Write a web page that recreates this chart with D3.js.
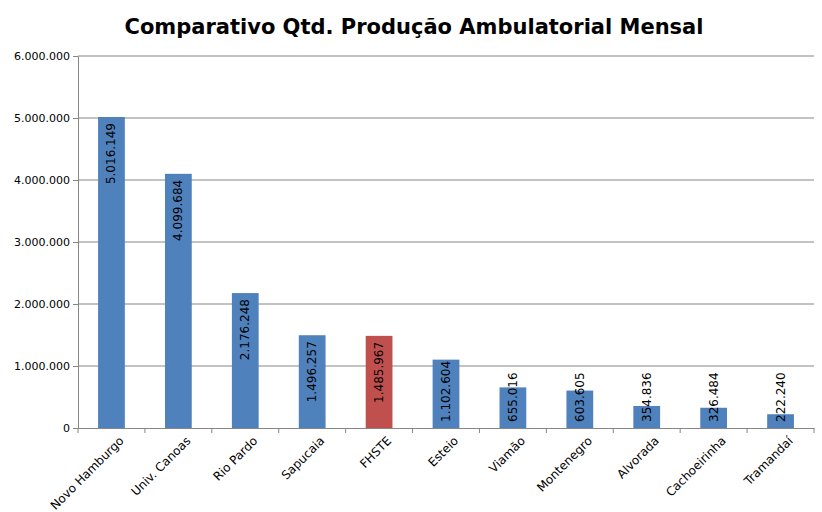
<!DOCTYPE html>
<html><head><meta charset="utf-8">
<script src="https://cdn.jsdelivr.net/npm/d3@7"></script>
<style>body{margin:0;background:#fff}text{font-family:Tahoma,"DejaVu Sans",sans-serif}</style>
</head><body>
<svg id="c" width="822" height="512"></svg>
<script>
var categories = ['Novo Hamburgo', 'Univ. Canoas', 'Rio Pardo', 'Sapucaia', 'FHSTE', 'Esteio', 'Viamão', 'Montenegro', 'Alvorada', 'Cachoeirinha', 'Tramandaí'];
var values = [5016149, 4099684, 2176248, 1496257, 1485967, 1102604, 655016, 603605, 354836, 326484, 222240];
var highlight = ['FHSTE'];
var yTicks = [0, 1000000, 2000000, 3000000, 4000000, 5000000, 6000000];

var svg = d3.select('#c');
var mLeft = 78, mRight = 814, mTop = 56, mBottom = 428;
var fmt = function (v) { return d3.format(',')(v).replace(/,/g, '.'); };

var x = d3.scaleBand().domain(categories).range([mLeft, mRight]).paddingInner(0.6).paddingOuter(0.3);
var y = d3.scaleLinear().domain([0, 6000000]).range([mBottom, mTop]);

svg.append('text').attr('x', 414).attr('y', 34).attr('text-anchor', 'middle')
    .style('font-size', '21px').style('font-weight', 'bold').text('Comparativo Qtd. Produção Ambulatorial Mensal');

svg.append('g').selectAll('line').data(yTicks.slice(1)).enter().append('line')
    .attr('x1', mLeft).attr('x2', mRight).attr('y1', y).attr('y2', y)
    .attr('stroke', '#868686').attr('stroke-width', 1);

var ya = svg.append('g').attr('transform', 'translate(' + mLeft + ',0)')
    .call(d3.axisLeft(y).tickValues(yTicks).tickFormat(fmt).tickSize(5).tickSizeOuter(0));
ya.selectAll('text').style('font-size', '11px').attr('fill', '#000');
ya.selectAll('line,path').attr('stroke', '#868686');

var xa = svg.append('g').attr('transform', 'translate(0,' + mBottom + ')')
    .call(d3.axisBottom(x).tickSize(5).tickSizeOuter(0));
xa.selectAll('path,line').attr('stroke', '#868686');
xa.selectAll('.tick line').attr('transform', 'translate(' + (-x.step() / 2) + ',0)');
xa.append('line').attr('x1', mRight).attr('x2', mRight).attr('y1', 0).attr('y2', 5).attr('stroke', '#868686');
xa.selectAll('text').style('font-size', '12px').attr('fill', '#000')
    .attr('text-anchor', 'end').attr('dx', '0.3em').attr('dy', '0.9em')
    .attr('transform', 'rotate(-45) translate(-4,0)');

svg.append('g').selectAll('rect').data(categories).enter().append('rect')
    .attr('x', function (d) { return x(d); }).attr('width', x.bandwidth())
    .attr('y', function (d, i) { return y(values[i]); })
    .attr('height', function (d, i) { return mBottom - y(values[i]); })
    .attr('fill', function (d) { return highlight.indexOf(d) >= 0 ? '#C0504D' : '#4F81BD'; });

svg.append('g').selectAll('text').data(categories).enter().append('text')
    .style('font-size', '12px').attr('fill', '#000')
    .text(function (d, i) { return fmt(values[i]); })
    .each(function (d, i) {
        var len = this.getComputedTextLength();
        var endY = y(values[i]) + 6;
        if (endY + len > mBottom - 6) endY = mBottom - 6 - len;
        var cx = x(d) + x.bandwidth() / 2 + 4;
        d3.select(this).attr('text-anchor', 'end')
            .attr('transform', 'translate(' + cx + ',' + endY + ') rotate(-90)');
    });
</script>
</body></html>
